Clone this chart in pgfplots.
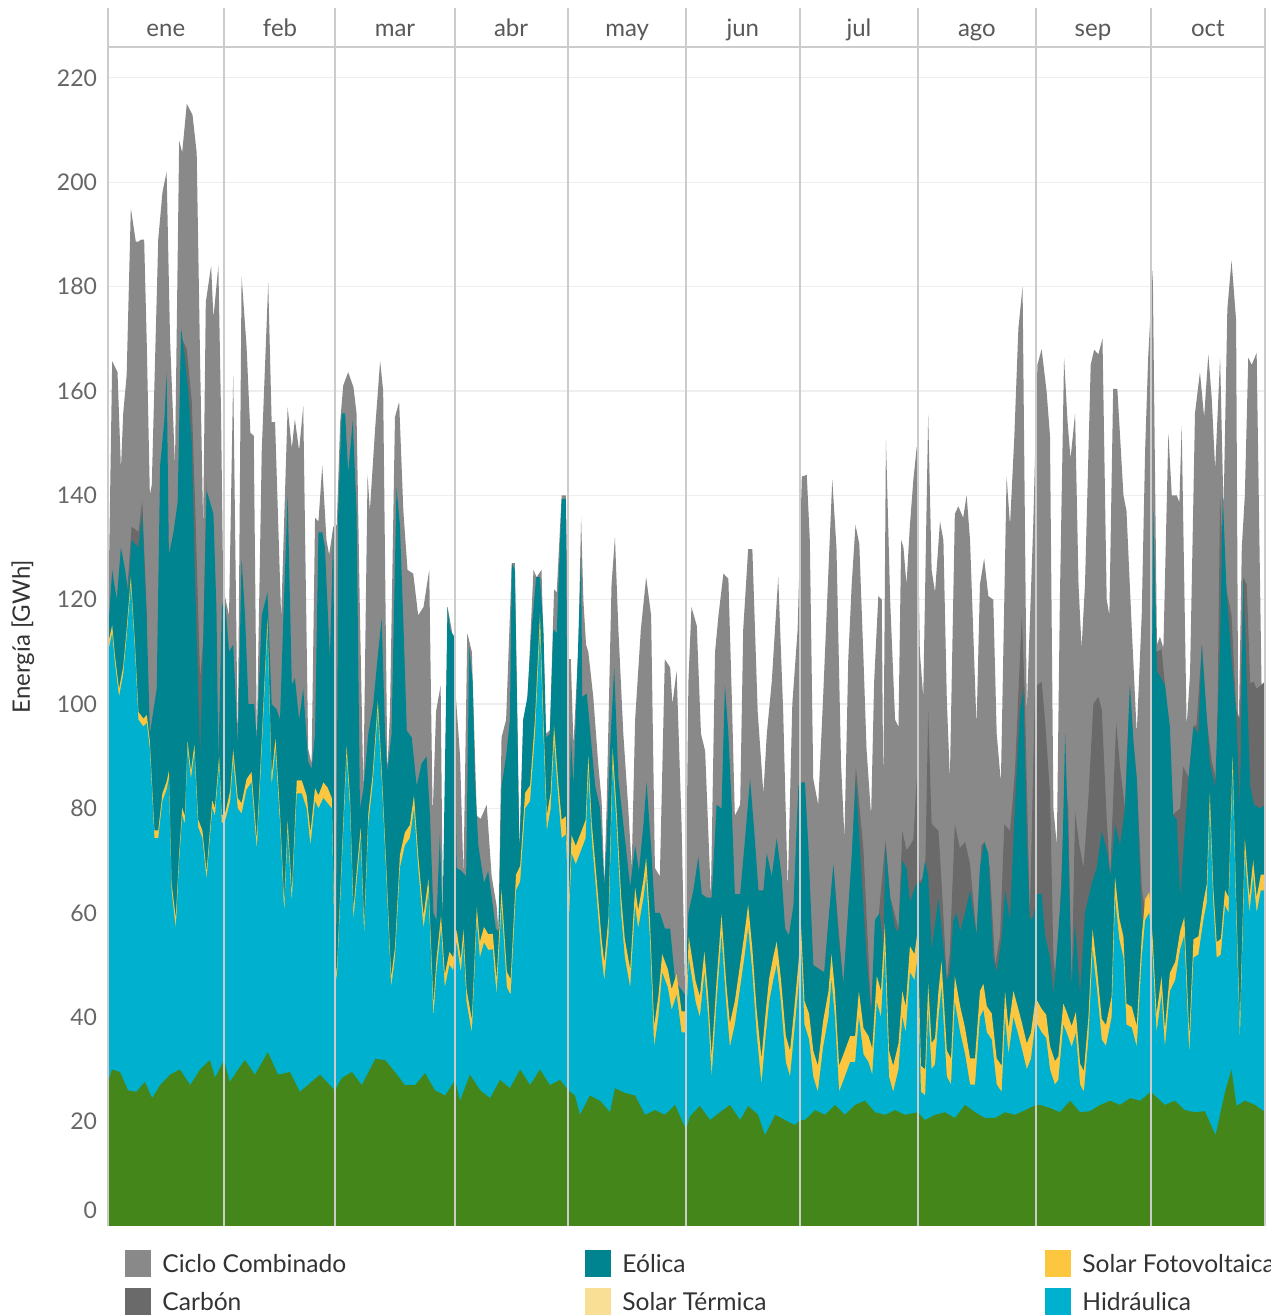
\documentclass[border=0pt]{standalone}
\usepackage{pgfplots}
\pgfplotsset{compat=1.18}
\usepackage{pgfplotstable}
\usepackage{fontspec}
\setmainfont{Lato}
\definecolor{ccC}{HTML}{898989}
\definecolor{coalC}{HTML}{6A6A6A}
\definecolor{windC}{HTML}{00848F}
\definecolor{pvC}{HTML}{FCC63F}
\definecolor{stC}{HTML}{F9DE95}
\definecolor{hydC}{HTML}{00B1CF}
\definecolor{nucC}{HTML}{45861B}
\definecolor{gridC}{HTML}{EEEEEE}
\definecolor{facetC}{HTML}{CCCCCC}
\definecolor{tickC}{HTML}{666666}

\pgfplotstableread{
d v
0 114
1.1 165.7
2.5 163.6
3.4 145
4.0 155.7
4.9 163
6.0 195
7.3 188.6
8.0 188.6
8.7 189
9.5 189
10.2 168.6
11.0 140
11.5 142
13.2 189
14.3 198
15.4 202
16.3 170
17.6 145.7
18.7 207.9
19.5 205.7
20.7 215
22.2 212.9
23.3 205.7
24.2 165.7
25.0 134
25.7 177
27.1 184
27.7 174
29.0 184
29.7 155.7
30.3 120.7
30.7 120.7
31.8 117
32.9 163
34.1 92
35.1 182
36.4 168.6
37.4 152
38.3 151.4
39.1 93
40.4 148.6
42.1 180.7
43.0 154
43.9 154
45.5 116.4
47.2 156.9
48.3 149
49.1 154.6
50.2 148.6
51.3 157
52.6 91.4
53.5 88.6
54.4 135.7
55.3 135
56.3 145.7
57.4 131.4
58.1 128.6
59.2 134
60.1 134.3
61.0 154
61.8 161
63.1 163.6
64.5 160.7
65.3 155.7
66.2 117
67.1 83.6
68.2 144
68.8 137
70.2 152.9
71.5 165.7
72.3 160
73.4 87
74.1 98.6
75.4 155
76.5 157.9
77.6 137
78.7 125.7
80.2 125
81.5 117
82.9 118.6
84.4 125.7
85.3 78.6
86.2 98.6
87.4 103.6
88.1 51
89.2 118.6
90.3 114.3
91.4 101.4
92.5 90
93.4 67
94.4 113.6
95.6 110
96.9 78.6
97.9 78
99.5 80.7
100.8 67
102.1 61.4
102.6 56.4
103.4 93.6
104.6 97
106.1 127
106.9 127
108.1 72
109.1 97
110.2 100.7
111.8 125.7
112.6 124.3
113.9 125.7
115.1 94.3
116.1 95
117.2 122
117.9 121.4
119.2 140
120.3 140
121.0 108.6
121.6 108.6
122.3 92
123.6 111.4
124.3 135.7
124.9 120
125.6 111.4
126.2 110
127.5 101.4
128.8 88.6
129.7 81.4
130.4 65.7
131.0 80
132.3 122.9
133.2 132
134.1 114.3
135.4 94.3
136.7 80
137.6 68.6
138.5 97
140.0 114.3
141.4 124.3
142.7 117
143.7 68.6
145.0 67
146.3 108.6
147.7 107
148.3 100
149.4 106.4
150.7 77
151.6 45.7
152.5 104.3
153.3 118.6
154.7 115
155.8 94.3
156.9 91
158.4 62.9
159.5 110
160.4 117
161.7 125
163.0 124
163.9 101.4
164.7 78.6
166.1 80.7
166.9 114.3
168.2 129.7
169.3 129.7
170.7 98.6
172.2 82.9
173.1 94.3
174.4 104.3
176.1 124.3
177.4 98.6
178.6 64.3
179.8 100
181.2 114.3
182.3 143.6
183.6 143.9
184.4 131.4
185.3 85.7
186.6 80.7
187.9 101.4
189.3 125.7
190.3 143
191.4 130
192.6 88.6
193.5 74.3
194.5 108.6
195.4 122.9
196.4 134.3
197.4 130.7
198.5 108.6
199.3 91.4
200.5 78.6
201.3 104.3
202.4 120.7
203.3 120
203.7 82.9
204.4 150.7
205.5 120
206.8 97
207.7 95.7
208.4 131.4
209.0 130
209.8 122.9
210.7 134.3
211.6 142.9
212.5 149.3
213.3 110
214.2 101.4
215.5 155.4
216.4 125.7
217.3 121.4
218.6 135
219.5 131.4
220.4 100.7
221.2 85.7
222.5 136.4
223.4 137.9
224.7 135.7
225.6 140
226.5 131.4
228.2 95.7
229.1 122.9
230.2 127.9
231.3 120.7
232.6 120
233.5 94.3
234.6 85
236.1 143.6
237.0 134.3
238.1 150.7
239.2 172
240.3 180
241.4 98.6
243.1 134.3
244.2 165
245.3 168
246.6 160
247.5 151.4
248.4 80
249.3 72.9
250.1 120
251.2 166.4
252.1 154.3
252.9 147
254.1 155.7
255.0 122.9
255.8 110.7
256.7 122.9
258.2 165
259.1 167.9
260.2 167
261.3 170
262.4 120
263.1 117
264.1 160.4
265.2 160.4
266.8 140
267.6 137
269.0 114.3
270.3 94.3
271.6 117
272.5 148.6
273.3 166.4
274.5 183
275.6 111.4
276.4 112.9
277.3 110.7
278.6 152
279.5 140
280.8 140
281.5 138.6
282.1 153.3
283.4 95.7
284.3 105.7
285.6 155.7
286.9 163.6
288.0 155
289.1 167
290.0 158.6
290.9 145
292.2 166.4
293.1 137
294.1 175.7
295.2 185
296.4 173.6
297.0 91
297.9 130
298.7 140
299.6 166.4
300.5 165
301.8 167.3
303.1 102.9
304.0 102.3
}\ccTop

\pgfplotstableread{
d v
5.0 121
6.2 134
8.0 133
9.0 139
10.2 117
}\coalA

\pgfplotstableread{
d v
19.4 170
20.7 168
22.0 158
22.9 138
24.2 105
25.0 112
25.9 143
}\coalB

\pgfplotstableread{
d v
181.8 84
183.1 85
185.3 50
188.2 48.6
190.6 69
193.2 46
195.4 70
196.5 88
198.5 72
200.5 40.7
202.8 62
204.3 74
205.5 63
207.7 57
208.7 75.7
209.8 72
210.7 72.9
211.6 74
212.5 85.7
213.3 66
214.7 67.1
215.5 98.6
216.4 77
218.2 75.7
219.0 66
220.4 47
221.2 52.6
222.5 77
223.8 72.4
225.2 73.6
226.5 69.3
228.2 55.7
229.5 72.9
230.4 73.6
231.7 68.6
233.1 50
234.4 55.7
235.5 77
237.0 75.7
238.3 87.1
240.1 117
240.9 101.4
242.2 59
243.6 104.3
244.2 103.6
245.3 104.3
246.2 97
247.5 82.9
248.4 51.4
249.3 45
250.1 60
251.5 85.7
252.3 80
253.2 45.7
254.1 79.3
255.2 73
256.3 68.6
257.6 82
258.9 100
260.2 101.4
261.1 99
262.4 78
263.3 67
264.9 96.4
265.9 88
267.2 80
268.5 103.6
269.4 92.9
270.3 85.7
271.6 65
272.5 60
273.8 62.9
274.5 108.6
275.5 110
276.8 110.5
278.2 100
279.5 78.6
281.7 80
282.5 88
283.9 86
285.2 95.7
286.0 96
287.4 111.4
288.7 97
290.0 89
291.3 85
292.2 140
293.1 125.7
294.1 121
295.2 117
296.4 99
297.4 97
298.3 124.3
299.2 122.9
300.1 104
301.0 104.3
301.8 102.9
304.0 104.3
}\coalC

\pgfplotstableread{
d v
0 113.6
1.1 125.7
2.3 120
3.4 130
4.5 125.7
5.3 121.4
6.2 131.4
8.0 130
9.0 136.4
10.2 115.7
11.0 94.3
11.9 98.6
12.8 102.9
13.7 145.7
14.8 154.3
15.4 163.6
16.0 128.6
17.2 132.9
18.3 138.6
19.2 172
20.1 167
21.1 160
22.0 150
22.9 122.9
24.2 90
25.0 110
25.9 141
27.7 136.4
28.5 118
29.0 88.6
29.9 118.6
30.4 120
30.9 118.6
31.8 110
32.9 111.4
34.1 92
35.1 127.9
36.0 117
36.9 100
38.4 100
39.1 93
40.4 117
41.9 121.4
43.0 100
44.3 99
45.2 97
46.1 117
47.2 140
48.3 103.6
49.1 105
50.2 97
51.3 102.9
52.6 89
53.5 87.6
54.4 94.3
55.3 132.9
56.3 132.9
57.0 130
58.3 108.6
59.2 133.6
59.9 47.1
60.5 137
61.4 155.7
62.3 155.7
63.1 144.3
64.3 154.3
65.3 137
66.2 80
67.1 83.6
68.4 94.3
69.7 100
70.8 108.6
71.9 116.4
72.8 94.3
73.4 87
74.5 94.3
75.8 141.4
76.7 134.3
77.6 115.7
78.5 94.9
79.8 93.6
81.1 84.3
82.4 88.6
83.7 90
84.6 78.6
85.5 60
86.3 58.6
87.2 75
87.9 58.6
89.2 118.6
89.9 114.3
90.9 113
91.6 68.6
92.9 68
94.1 67
94.9 111
95.8 104.3
96.4 85.7
97.3 72.9
98.8 65.7
99.9 68
101.9 57
102.6 56.4
103.4 84.3
104.6 90
105.6 97
106.1 127
106.9 125.7
108.1 71.4
109.1 97
110.2 101.4
111.3 114.3
112.5 124.3
113.5 124.3
114.4 114.3
115.1 93.6
116.1 94.3
117.0 114.3
117.9 113.6
119.2 139.3
120.3 139.3
121.0 60
121.6 94.3
122.3 84.3
123.1 101.4
124.3 128.6
124.6 101.4
125.8 102
128.0 84.3
129.3 80
130.4 65
131.0 72.9
131.9 91.4
133.0 107
134.1 85.7
135.4 77
137.2 65
138.5 72.9
139.5 68
140.7 77
141.5 85
142.8 71.4
143.7 60
145.0 60
146.3 57
147.7 57
149.0 47
150.3 45.7
151.6 44.3
152.5 60
153.8 64.3
155.1 70.7
156.0 63.6
157.3 62.9
158.6 62.9
159.9 80.7
161.2 80
162.1 103.6
163.0 94.3
163.9 80
164.7 63.6
166.1 63.6
167.4 74.3
168.7 85.7
169.8 75.7
170.9 64.3
172.2 64.3
173.1 71.4
174.4 67
175.7 74.3
177.0 67
177.9 57
178.9 55.7
180.1 61.4
181.4 84.3
182.3 85
183.1 85
184.0 72.9
185.3 50
186.6 49.3
188.2 48.6
189.3 58.6
190.6 69.3
191.9 55.7
193.2 46.4
195.4 70.7
196.5 85.7
197.4 74.3
199.3 51.4
200.5 40.7
201.5 58.6
202.8 60
203.7 53
204.3 72.9
205.5 62.9
206.8 57
207.7 56.4
208.7 70
209.8 68.6
210.7 62
211.6 64
212.5 65.7
213.8 65.7
214.7 70
215.5 67
216.4 52.9
218.2 62.9
219.0 57
220.4 47
221.2 48.5
222.1 58.6
223.0 60
223.9 56.4
225.2 60
226.5 64.3
228.2 55.7
229.1 68.6
230.2 73.6
231.3 71.4
232.6 51.4
233.5 48.6
234.8 55
235.7 64.3
237.0 58.6
238.3 80.7
239.6 98.6
240.5 102.9
241.4 75
242.2 58.6
243.1 59.3
244.2 63.6
245.3 63.6
246.2 55.7
247.5 51.4
248.4 44.3
249.3 52.6
250.6 65.7
251.5 94.3
252.1 78.6
253.2 45.7
254.1 58
255.4 44.3
256.7 60
258.5 65.7
259.8 68.6
261.1 75.7
262.4 72
263.4 67
264.6 77
265.9 72.9
267.2 80
268.5 103.6
269.4 92.9
270.3 85.7
271.6 58.6
272.9 60
273.8 62.9
274.3 108.6
274.7 137
275.6 106.4
277.7 103.6
279.0 95.7
279.9 78.6
280.8 78
281.7 62.9
283.9 85.7
285.2 95.7
286.5 94.3
287.4 111.4
289.5 88.6
290.9 84
292.2 111.4
292.9 140
293.9 121.4
295.2 108.6
296.4 98.6
297.4 80
298.3 124.3
300.1 84.3
301.1 80.7
302.7 80
304.0 80.7
}\windTop

\pgfplotstableread{
d h s
0 110 1.5
1.1 113.6 1.5
1.8 108 1.5
2.9 101.4 1.5
4.0 105.7 1.5
4.9 112.9 1.5
6.0 122.9 1.5
7.1 110 1.5
8.0 97 1.5
9.3 95.7 1.5
10.2 96.4 1.5
11.0 91.4 1.5
12.2 74.3 1.5
13.2 74.3 1.5
14.3 81.4 1.5
15.4 83.6 1.5
16.0 85.7 1.5
16.7 64.3 1.5
17.8 57 2
18.7 70 1.5
19.5 78.6 1.5
20.2 77 1.5
20.9 91.4 1.5
21.8 85.7 1.5
22.7 90.7 1.5
23.7 76.4 1.5
24.8 74.3 1.5
25.9 66.4 1.5
27.4 80 1.5
28.1 78.6 1.5
29.2 88.6 1.5
29.9 77.1 1.5
30.9 77.9 1.5
32.1 81.4 2
32.9 89.3 2
34.1 80 2
35.1 79 2
36.4 83.6 2
37.7 85 2
39.1 72.1 2
40.4 91.4 2
41.9 114.3 2
43.0 84.3 2
44.0 91.4 2
45.2 77.1 2
46.3 60 2
47.2 75.7 2
48.3 62.1 2
49.6 82.9 2.5
50.9 82.9 2.5
52.2 80 2.5
53.2 72.9 2.5
54.4 81.4 2.5
55.3 80 2.5
56.6 82 3
57.7 81 3
58.8 80 2
59.6 51.4 1.5
60.1 46.7 1.5
61.4 68.6 2
62.7 90 2
63.6 80 2
64.5 58.6 2
65.3 65.7 2
66.4 74.3 2
67.3 55.7 2
68.4 77.1 2
69.5 84.3 2
70.9 98.6 2
71.9 85.7 2
73.2 65.7 2
74.4 45.7 2
75.4 51.4 2
76.7 68.6 2.5
78.0 72.9 2.5
79.3 74.3 2.5
80.4 80 2.5
81.5 68.6 2.5
82.9 57 2.5
84.2 64 2.5
85.5 40 2.5
86.3 48.6 2.5
87.5 57 2.5
88.5 45.7 2.5
89.7 50 2.5
90.7 49 2.5
91.6 54.3 2.5
92.7 48.6 2.5
93.4 54.3 2.5
94.2 42.9 2.5
95.6 37 2.5
96.9 58.6 2.5
97.7 51.4 3
98.8 54.3 3
99.9 52.9 3
101.1 53 3
102.1 44.3 3
103.4 61.4 3
104.8 45.7 3
105.8 44.3 3
107.2 64.3 3
108.3 66 3
109.6 80 3
110.9 81.4 3
112.2 94.3 3
113.5 114.3 3
114.4 94.3 3
115.3 75.7 3
116.3 80 3
117.2 92.9 3
118.3 82 3
119.2 74.3 3.5
120.3 75 3.5
121.1 58.6 3.5
121.8 71.4 3.5
122.9 69.3 3.5
124.0 71.4 3.5
125.5 74.3 3.5
126.2 87.1 3
127.1 74.3 3
128.4 62.9 3.5
129.7 51.4 3.5
130.4 47 3.5
131.5 55.7 3.5
132.6 88.6 3
133.6 77.1 3
134.8 60 3.5
135.8 51.4 3.5
137.2 45.7 3.5
138.5 61.4 3.5
139.3 57 3.5
140.7 62.9 3.5
141.4 67.1 3.5
142.4 55 3.5
143.5 34.3 4
144.6 40 4
145.6 48.6 3.5
147.1 45.7 3.5
148.1 41.4 4
149.4 44.3 4
150.7 37.1 4
151.8 37.1 4
152.6 51.4 4
154.4 42.9 4
155.5 40 4
156.7 48.6 4
157.7 40 4
158.6 28.6 4
159.9 42.9 4
161.2 55.7 4
162.4 42.9 4
163.4 34.3 4.5
164.7 38.6 4.5
166.1 45.7 4.5
167.2 51.4 4.5
168.2 57.1 4.5
169.3 48.6 4.5
170.4 37.1 4.5
171.7 27.1 5
172.6 35 4.5
173.7 42.9 4.5
174.8 47.1 4.5
175.7 50 4.5
176.8 42.9 4.5
178.1 31.4 5
179.2 28.6 5
180.3 37.1 4.5
181.4 45.7 4.5
182.1 52.9 4.5
183.0 38.6 4.5
184.2 35.7 5
185.3 28.6 5
186.5 25.7 5
187.9 34.3 5
189.3 40 5
190.1 47.1 5
191.0 40 5
192.1 25.7 5
193.6 28.6 5
195.0 31.4 5
196.3 31.4 5
197.3 40 5
198.5 32.9 5
199.8 31.4 5
200.8 29 5
202.0 42.9 5
203.1 40 5
204.1 52.9 5
205.2 28.6 5
206.3 25.7 5
207.7 30 5
208.7 40 5
209.6 37.1 5
210.7 48.6 5
211.9 47.1 5
212.7 51.4 5
213.6 25.7 5
214.7 25 5
215.5 41.4 5
216.4 30 5
217.3 31 5
218.2 40 5
219.0 45.7 5
220.4 28.6 5
221.5 27.1 5
222.5 42.9 5
223.9 37.1 5
225.2 32.9 5
226.5 27.1 5
227.8 27.1 5
229.1 40 5
230.0 41.4 5
230.9 37.1 5
232.2 35.7 5
233.5 27.1 5
234.8 25.7 5
235.7 40 5
236.6 32.9 5
237.9 40 5
239.0 37.1 5
240.1 34 5
241.4 30 5
242.5 32 5
243.6 38.6 4.5
244.2 38.6 4.5
245.3 37.1 4.5
246.5 36 4.5
247.5 30 4.5
248.8 27.1 4.5
249.7 28 4.5
251.0 38.6 4
251.9 37 4
253.2 34.3 4
254.3 37 4
255.4 27.1 4
256.4 25.7 4
257.6 36 4
258.7 52.9 4
259.8 45.7 4
261.1 35.7 4
262.2 34.5 4
263.7 40 4
264.6 62.9 4
265.7 55 4
266.8 51.4 4
267.6 38.6 4
269.0 38 4
270.3 34.3 4
271.6 51.4 4
272.5 58.6 4
273.6 60 4
274.5 51.4 3.5
275.5 37.1 3.5
276.8 44.3 3.5
277.7 34.3 3.5
279.0 45 3.5
280.4 47.1 3.5
281.7 53 3.5
282.8 55.7 3.5
284.1 32.9 3.5
285.2 51.4 3.5
286.5 52 3.5
287.8 58.6 3.5
288.7 62 3.5
289.5 80 3
290.4 62 3
291.3 51.4 3
292.4 52 3
293.5 61.4 3
294.4 60 3
295.5 87.1 3
296.4 60 3
297.4 35.7 3
298.7 71.4 3
299.9 60 3
300.9 67.1 3
301.8 60 3
302.9 64.3 3
304.0 64.3 3
}\hydTop

\pgfplotstableread{
d v
0 27.6
1.05 30
3.15 29.5
5.25 26
7.4 25.7
9.7 27.6
11.6 24.5
13.7 27
16.3 29
18.9 30
21.6 27
24.2 30
26.8 31.8
28.1 28.4
30.5 31.8
32.0 27.6
34.2 30
36.0 31.8
38.6 29
42.0 33.3
44.7 29
47.8 29.5
50.4 25.7
53.1 27.4
55.7 29
58.3 27
59.6 26
61.5 28.4
64.1 29.5
66.7 27
70.2 32
72.8 31.8
75.4 29.5
78.0 27
80.7 27
83.3 29.3
85.9 26
88.6 25
91.2 28
92.5 24
95.1 29
97.8 26
100.4 24.5
103.0 28
105.6 26.4
108.3 30
110.9 27
113.5 30
116.1 27
118.8 28
120.9 26
122.7 25
124.0 21.3
126.6 25
129.3 24
131.9 21.8
133.2 26.4
135.8 25.5
138.5 25
141.1 21.3
143.7 22.2
146.3 21.3
149.0 23.2
151.9 18.4
152.9 21
155.5 23
158.2 20.3
160.8 21.8
163.4 23.2
166.1 20.3
168.2 23
170.8 21.3
172.6 17.4
175.3 21.3
177.9 20.3
180.5 19.3
181.8 20.3
183.1 20.3
185.8 22.2
188.4 21.3
191.0 23.2
193.6 21.3
196.3 23.2
198.9 24
201.5 21.8
204.2 21.3
206.8 22.2
209.4 21.3
212.8 21.8
214.6 20.3
217.3 21.3
219.9 21.8
222.5 20.7
225.2 23.2
227.8 21.8
230.4 20.7
233.1 20.7
235.7 21.8
238.3 21.3
241.0 22.2
243.8 23.2
244.9 23.2
247.5 22.6
250.1 21.8
252.8 24
255.4 21.8
258.0 22
260.7 23.2
263.3 24
265.9 23.2
268.6 24.5
271.2 24
274.0 25.7
275.0 25
277.7 23.2
280.3 24
282.9 22.2
285.6 21.8
288.2 22
291.0 17.4
293.5 25.7
295.2 30
296.5 23
298.7 24
301.4 23.2
304.0 21.8
}\nucTop

\begin{document}
\begin{tikzpicture}[x=1pt,y=1pt]
\useasboundingbox (0,0) rectangle (635,657.5);
\begin{axis}[
  at={(54pt,44.5pt)}, anchor=south west,
  width=578.5pt, height=589.5pt, scale only axis,
  xmin=0, xmax=304, ymin=0, ymax=225.9,
  axis line style={draw=none},
  xtick=\empty,
  ytick={20,40,...,220},
  extra y ticks={0},
  extra y tick style={grid=none, yticklabel style={yshift=8pt}},
  ymajorgrids, grid style={draw=gridC, line width=0.6pt},
  major tick length=0pt,
  /pgf/number format/assume math mode=true,
  yticklabel style={font=\fontsize{11.5}{13}\selectfont, text=tickC, xshift=-2pt},
  ylabel={Energía [GWh]},
  ylabel style={at={(axis description cs:-0.0735,0.5)}, anchor=center, font=\fontsize{12}{14}\selectfont, text=black!80},
  clip=false,
]
\addplot[fill=ccC, draw=none] table[x=d,y=v]{\ccTop} \closedcycle;
\addplot[fill=coalC, draw=none] table[x=d,y=v]{\coalA} \closedcycle;
\addplot[fill=coalC, draw=none] table[x=d,y=v]{\coalB} \closedcycle;
\addplot[fill=coalC, draw=none] table[x=d,y=v]{\coalC} \closedcycle;
\addplot[fill=windC, draw=none] table[x=d,y=v]{\windTop} \closedcycle;
\addplot[fill=pvC, draw=none] table[x=d,y expr=\thisrow{h}+\thisrow{s}]{\hydTop} \closedcycle;
\addplot[fill=hydC, draw=none] table[x=d,y=h]{\hydTop} \closedcycle;
\addplot[fill=nucC, draw=none] table[x=d,y=v]{\nucTop} \closedcycle;
% facets
\draw[facetC, line width=0.7pt] (axis cs:0,225.9) -- (axis cs:304,225.9);
\draw[facetC, line width=1pt] (axis cs:0,0) -- (axis cs:0,233.4);
\draw[facetC, line width=1pt] (axis cs:30.5,0) -- (axis cs:30.5,233.4);
\draw[facetC, line width=1pt] (axis cs:59.6,0) -- (axis cs:59.6,233.4);
\draw[facetC, line width=1pt] (axis cs:91.2,0) -- (axis cs:91.2,233.4);
\draw[facetC, line width=1pt] (axis cs:120.9,0) -- (axis cs:120.9,233.4);
\draw[facetC, line width=1pt] (axis cs:151.9,0) -- (axis cs:151.9,233.4);
\draw[facetC, line width=1pt] (axis cs:181.8,0) -- (axis cs:181.8,233.4);
\draw[facetC, line width=1pt] (axis cs:212.8,0) -- (axis cs:212.8,233.4);
\draw[facetC, line width=1pt] (axis cs:243.8,0) -- (axis cs:243.8,233.4);
\draw[facetC, line width=1pt] (axis cs:274.0,0) -- (axis cs:274.0,233.4);
\draw[facetC, line width=1pt] (axis cs:304,0) -- (axis cs:304,233.4);
\node[anchor=base, font=\fontsize{12}{14}\selectfont, text=black!65] at (axis cs:15.2,227.9) {ene};
\node[anchor=base, font=\fontsize{12}{14}\selectfont, text=black!65] at (axis cs:45.2,227.9) {feb};
\node[anchor=base, font=\fontsize{12}{14}\selectfont, text=black!65] at (axis cs:75.4,227.9) {mar};
\node[anchor=base, font=\fontsize{12}{14}\selectfont, text=black!65] at (axis cs:105.9,227.9) {abr};
\node[anchor=base, font=\fontsize{12}{14}\selectfont, text=black!65] at (axis cs:136.4,227.9) {may};
\node[anchor=base, font=\fontsize{12}{14}\selectfont, text=black!65] at (axis cs:166.8,227.9) {jun};
\node[anchor=base, font=\fontsize{12}{14}\selectfont, text=black!65] at (axis cs:197.3,227.9) {jul};
\node[anchor=base, font=\fontsize{12}{14}\selectfont, text=black!65] at (axis cs:228.3,227.9) {ago};
\node[anchor=base, font=\fontsize{12}{14}\selectfont, text=black!65] at (axis cs:258.8,227.9) {sep};
\node[anchor=base, font=\fontsize{12}{14}\selectfont, text=black!65] at (axis cs:289.0,227.9) {oct};
\end{axis}
% legend
\begin{scope}[font=\fontsize{12.3}{14}\selectfont]
\fill[ccC] (62.5,32.5) rectangle (75.5,19);
\node[anchor=west, text=black!80, inner sep=0] at (81,25.5) {Ciclo Combinado};
\fill[coalC] (62.5,13.5) rectangle (75.5,0);
\node[anchor=west, text=black!80, inner sep=0] at (81,6.5) {Carbón};
\fill[windC] (292.5,32.5) rectangle (305.5,19);
\node[anchor=west, text=black!80, inner sep=0] at (311,25.5) {Eólica};
\fill[stC] (292.5,13.5) rectangle (305.5,0);
\node[anchor=west, text=black!80, inner sep=0] at (311,6.5) {Solar Térmica};
\fill[pvC] (522.5,32.5) rectangle (535.5,19);
\node[anchor=west, text=black!80, inner sep=0] at (541,25.5) {Solar Fotovoltaica};
\fill[hydC] (522.5,13.5) rectangle (535.5,0);
\node[anchor=west, text=black!80, inner sep=0] at (541,6.5) {Hidráulica};
\end{scope}
\end{tikzpicture}
\end{document}
